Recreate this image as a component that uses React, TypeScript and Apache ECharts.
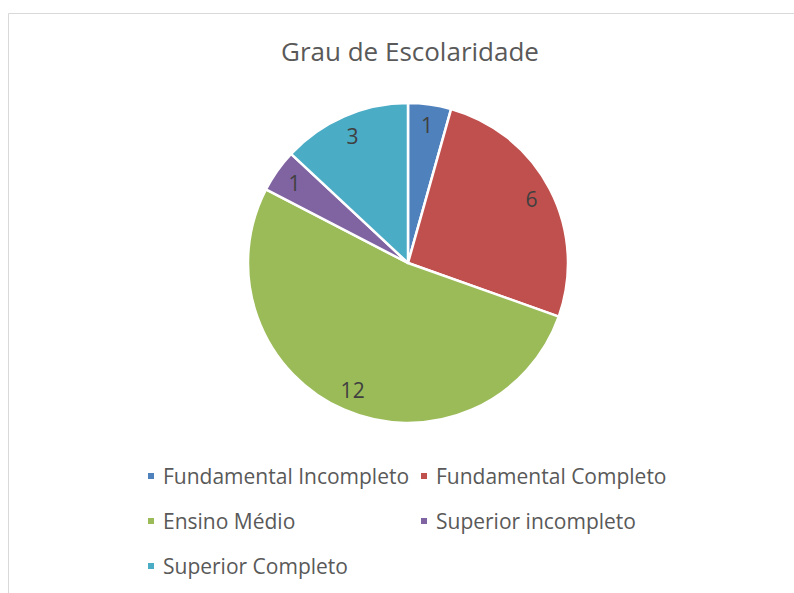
import React, { useEffect, useRef } from "react";
import * as echarts from "echarts";

const titleText = "Grau de Escolaridade";
const categories = [
  "Fundamental Incompleto",
  "Fundamental Completo",
  "Ensino Médio",
  "Superior incompleto",
  "Superior Completo",
];
const values = [1, 6, 12, 1, 3];
const colors = ["#4F81BD", "#C0504D", "#9BBB59", "#8064A2", "#4BACC6"];
const legendCol1 = [categories[0], categories[2], categories[4]];
const legendCol2 = [categories[1], categories[3]];

const FONT = "Open Sans";

export default function App() {
  const ref = useRef<HTMLDivElement>(null);
  useEffect(() => {
    if (!ref.current) return;
    const chart = echarts.init(ref.current, null, { renderer: "svg" });
    const data = categories.map((name, i) => ({
      name,
      value: values[i],
      itemStyle: { color: colors[i] },
    }));
    const legendCommon = {
      orient: "vertical" as const,
      icon: "rect",
      itemWidth: 8,
      itemHeight: 8,
      itemGap: 21,
      selectedMode: false,
      textStyle: {
        fontFamily: FONT,
        fontSize: 21,
        color: "#595959",
        lineHeight: 24,
        padding: [0, 0, 0, 3],
      },
      padding: 0,
    };
    chart.setOption({
      animation: false,
      backgroundColor: "#ffffff",
      title: {
        text: titleText,
        left: 281,
        top: 38,
        padding: 0,
        textStyle: {
          fontFamily: FONT,
          fontSize: 26,
          fontWeight: "normal",
          color: "#595959",
        },
      },
      legend: [
        { ...legendCommon, left: 146, top: 464, data: legendCol1 },
        { ...legendCommon, left: 419, top: 464, data: legendCol2 },
      ],
      graphic: [
        {
          type: "line",
          shape: { x1: 8.5, y1: 13.5, x2: 794, y2: 13.5 },
          style: { stroke: "#d9d9d9", lineWidth: 1 },
          silent: true,
        },
        {
          type: "line",
          shape: { x1: 8.5, y1: 13.5, x2: 8.5, y2: 593 },
          style: { stroke: "#d9d9d9", lineWidth: 1 },
          silent: true,
        },
      ],
      series: [
        {
          type: "pie",
          center: [408, 263],
          radius: [0, 160],
          startAngle: 90,
          clockwise: true,
          label: { show: false },
          labelLine: { show: false },
          emphasis: { disabled: true },
          itemStyle: { borderColor: "#ffffff", borderWidth: 2.5 },
          data,
        },
        {
          type: "pie",
          center: [408, 263],
          radius: [112, 160],
          startAngle: 90,
          clockwise: true,
          silent: true,
          emphasis: { disabled: true },
          itemStyle: { color: "transparent", borderWidth: 0 },
          label: {
            show: true,
            position: "inside",
            formatter: "{c}",
            fontFamily: FONT,
            fontSize: 21,
            color: "#404040",
          },
          labelLine: { show: false },
          data: categories.map((name, i) => ({
            name,
            value: values[i],
            itemStyle: { color: "transparent" },
          })),
        },
      ],
    });
    return () => chart.dispose();
  }, []);
  return (
    <div
      ref={ref}
      style={{ position: "fixed", left: 0, top: 0, width: 794, height: 593 }}
    />
  );
}
